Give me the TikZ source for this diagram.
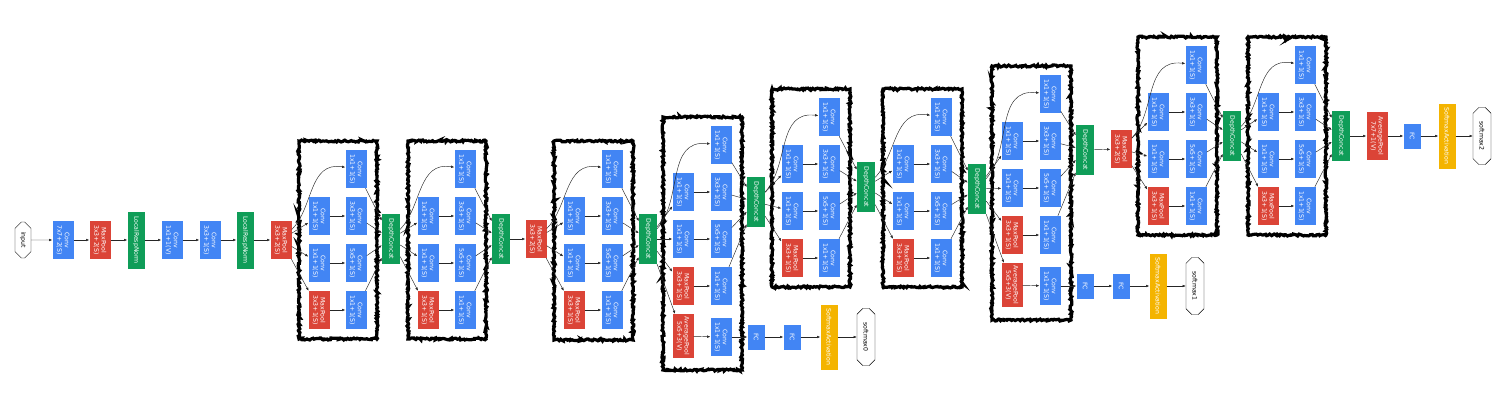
\documentclass[tikz,border=0pt]{standalone}
\usepackage{fontspec}
\setsansfont{DejaVu Sans}
\usepackage{tikz}
\usetikzlibrary{arrows.meta,shapes.misc,decorations.pathmorphing}
\definecolor{gblue}{HTML}{4285F4}
\definecolor{gred}{HTML}{DB4437}
\definecolor{ggreen}{HTML}{0F9D58}
\definecolor{gyellow}{HTML}{F4B400}

\begin{document}
\begin{tikzpicture}[x=1pt,y=1pt,
	lbl/.style={rotate=-90,text=white,font=\sffamily\fontsize{6.2}{7.3}\selectfont,align=center,inner sep=0.5pt},
	conv/.style={lbl,fill=gblue,minimum width=38pt,minimum height=21pt},
	pool/.style={lbl,fill=gred,minimum width=38pt,minimum height=21pt},
	norm/.style={lbl,fill=ggreen,minimum width=57pt,minimum height=17pt},
	cat/.style={lbl,fill=ggreen,minimum width=50pt,minimum height=18pt},
	fc/.style={lbl,fill=gblue,minimum width=25pt,minimum height=17pt},
	act/.style={lbl,fill=gyellow,minimum width=65pt,minimum height=17pt},
	term/.style={rotate=-90,draw,fill=white,line width=0.4pt,chamfered rectangle,chamfered rectangle xsep=6pt,
		font=\sffamily\fontsize{6.2}{7.3}\selectfont,inner sep=0.5pt,minimum width=57pt,minimum height=18pt},
	arr/.style={-{Latex[length=3.2pt,width=2.6pt]},line width=0.45pt,black!85},
	frame/.style={line width=3.2pt,decorate,decoration={random steps,segment length=1.4pt,amplitude=1pt}}
	]
\useasboundingbox (0,0) rectangle (1505,-404);

% stem
\node[term,minimum width=36pt,minimum height=16pt] (inp) at (23,-240) {input};
\node[conv] (c1) at (63,-240) {Conv\\7x7+2(S)};
\node[pool] (mp1) at (100,-240) {MaxPool\\3x3+2(S)};
\node[norm] (lrn1) at (136,-240) {LocalRespNorm};
\node[conv] (c2) at (172,-240) {Conv\\1x1+1(V)};
\node[conv] (c3) at (210,-240) {Conv\\3x3+1(S)};
\node[norm] (lrn2) at (245,-240) {LocalRespNorm};
\node[pool] (mp2) at (281,-240) {MaxPool\\3x3+2(S)};
\node[pool] (mp3) at (536,-239) {MaxPool\\3x3+2(S)};
\node[pool] (mp4) at (1121,-149) {MaxPool\\3x3+2(S)};
\foreach \a/\b in {inp/c1, c1/mp1, mp1/lrn1, lrn1/c2, c2/c3, c3/lrn2, lrn2/mp2}
	\draw[arr] (\a) -- (\b);

% inception modules
\foreach \m/\p/\xa/\xb/\ya/\dx/\dy/\yb in {
	i3a/mp2/319/356/169/391/239/170,
	i3b/i3a-cat/428/465/169/501/239/170,
	i4a/mp3/574/612/169/648/239/171,
	i4b/i4a-cat/683/721/145/756/202/225,
	i4c/i4b-cat/792/829/117/866/187/170,
	i4d/i4c-cat/903/941/117/977/189/170,
	i4e/i4d-cat/1012/1050/94/1085/150/226,
	i5a/mp4/1158/1196/65/1232/136/170,
	i5b/i5a-cat/1268/1305/65/1341/136/170}
	{
	\draw[frame] (\xa-20,-\ya+28) rectangle (\xb+21,-\ya-\yb);
	\node[conv] (\m-a) at (\xb,-\ya) {Conv\\1x1+1(S)};
	\node[conv] (\m-b1) at (\xa,-\ya-47) {Conv\\1x1+1(S)};
	\node[conv] (\m-b2) at (\xb,-\ya-47) {Conv\\3x3+1(S)};
	\node[conv] (\m-c1) at (\xa,-\ya-94) {Conv\\1x1+1(S)};
	\node[conv] (\m-c2) at (\xb,-\ya-94) {Conv\\5x5+1(S)};
	\node[pool] (\m-d1) at (\xa,-\ya-141) {MaxPool\\3x3+1(S)};
	\node[conv] (\m-d2) at (\xb,-\ya-141) {Conv\\1x1+1(S)};
	\node[cat] (\m-cat) at (\dx,-\dy) {DepthConcat};

	\draw[arr] (\p) to[out=60,in=195] (\m-a);
	\foreach \r in {b,c,d}
		{
		\draw[arr] (\p) -- (\m-\r1);
		\draw[arr] (\m-\r1) -- (\m-\r2);
		}
	\foreach \r in {a,b2,c2,d2}
		\draw[arr] (\m-\r) -- (\m-cat);
	}
\draw[arr] (i3b-cat) -- (mp3);
\draw[arr] (i4e-cat) -- (mp4);

% auxiliary heads
\foreach \k/\p/\x/\y in {0/i4a-cat/683/337, 1/i4d-cat/1012/286}
	{
	\node[pool,minimum width=44pt] (ap\k) at (\x,-\y+1) {AveragePool\\5x5+3(V)};
	\node[conv] (cv\k) at (\x+38,-\y) {Conv\\1x1+1(S)};
	\node[fc] (fa\k) at (\x+73,-\y) {FC};
	\node[fc] (fb\k) at (\x+109,-\y) {FC};
	\node[act] (sa\k) at (\x+146,-\y) {SoftmaxActivation};
	\node[term] (sm\k) at (\x+183,-\y) {softmax\k};
	\draw[arr] (\p) -- (ap\k);
	\foreach \a/\b in {ap/cv, cv/fa, fa/fb, fb/sa, sa/sm}
		\draw[arr] (\a\k) -- (\b\k);
	}

% output head
\node[pool,minimum width=48pt] (ap2) at (1377,-136) {AveragePool\\7x7+1(V)};
\node[fc] (fa2) at (1412,-136) {FC};
\node[act] (sa2) at (1447,-136) {SoftmaxActivation};
\node[term] (sm2) at (1482,-136) {softmax2};
\foreach \a/\b in {i5b-cat/ap2, ap2/fa2, fa2/sa2, sa2/sm2}
	\draw[arr] (\a) -- (\b);
\end{tikzpicture}
\end{document}
